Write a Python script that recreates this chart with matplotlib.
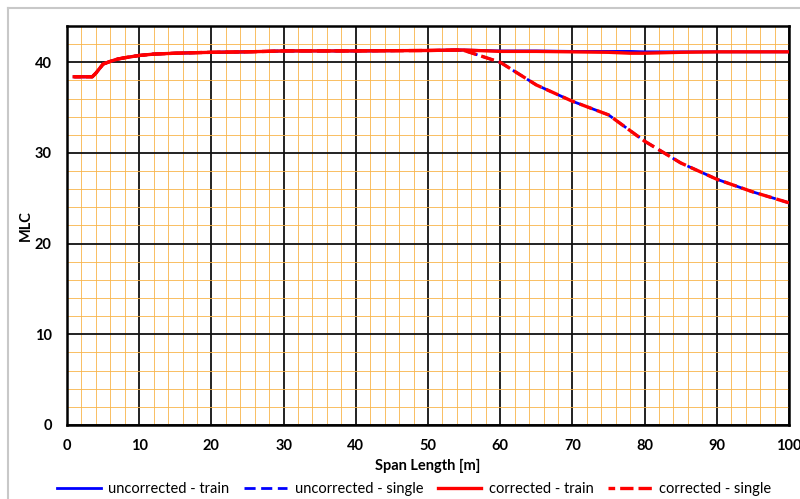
import matplotlib
matplotlib.use("Agg")
import matplotlib.pyplot as plt
from matplotlib.lines import Line2D

plt.rcParams['font.family'] = ['Lato', 'DejaVu Sans']

# Data
span_train = [1, 2, 3, 3.5, 4, 4.6, 5, 6, 7, 8, 10, 12, 15, 20, 25, 30, 40, 50, 54, 55, 60, 65, 70, 75, 78, 80, 85, 90, 95, 100]
uncorr_train = [38.4, 38.4, 38.4, 38.4, 38.8, 39.4, 39.8, 40.1, 40.35, 40.5, 40.75, 40.9, 41.0, 41.1, 41.15, 41.25, 41.25, 41.3, 41.35, 41.35, 41.25, 41.25, 41.2, 41.2, 41.2, 41.15, 41.15, 41.15, 41.15, 41.15]
corr_train = [38.4, 38.4, 38.4, 38.4, 38.8, 39.4, 39.8, 40.1, 40.35, 40.5, 40.75, 40.9, 41.0, 41.1, 41.15, 41.25, 41.25, 41.3, 41.35, 41.35, 41.2, 41.2, 41.15, 41.1, 41.0, 41.0, 41.1, 41.15, 41.15, 41.15]

span_single = [1, 2, 3, 3.5, 4, 4.6, 5, 6, 7, 8, 10, 12, 15, 20, 25, 30, 40, 50, 54, 55, 60, 65, 70, 75, 80, 85, 90, 95, 100]
uncorr_single = [38.4, 38.4, 38.4, 38.4, 38.8, 39.4, 39.8, 40.1, 40.35, 40.5, 40.75, 40.9, 41.0, 41.1, 41.15, 41.25, 41.25, 41.3, 41.35, 41.3, 40.0, 37.5, 35.7, 34.2, 31.3, 28.9, 27.1, 25.7, 24.5]
corr_single = [38.4, 38.4, 38.4, 38.4, 38.8, 39.4, 39.8, 40.1, 40.35, 40.5, 40.75, 40.9, 41.0, 41.1, 41.15, 41.25, 41.25, 41.3, 41.35, 41.3, 40.0, 37.5, 35.7, 34.2, 31.3, 28.9, 27.1, 25.7, 24.5]

x_ticks = [0, 10, 20, 30, 40, 50, 60, 70, 80, 90, 100]
y_ticks = [0, 10, 20, 30, 40]

fig = plt.figure(figsize=(8, 4.99), dpi=100)
ax = fig.add_axes([67/800, 74/499, 722/800, 399/499])

# figure frame lines
fig.add_artist(Line2D([8/800, 1], [1 - 8/499, 1 - 8/499], transform=fig.transFigure, color='#c8c8c8', lw=1.5))
fig.add_artist(Line2D([8/800, 8/800], [0, 1 - 8/499], transform=fig.transFigure, color='#c8c8c8', lw=1.5))

ax.set_xlim(0, 100)
ax.set_ylim(0, 44)
ax.set_xticks(x_ticks)
ax.set_yticks(y_ticks)
ax.set_xticks(range(0, 101, 2), minor=True)
ax.set_yticks(range(0, 45, 2), minor=True)
ax.grid(which='minor', color='#f9b449', lw=0.6, zorder=0)
ax.grid(which='major', color='#111111', lw=1.3, zorder=1)
ax.set_axisbelow(True)
ax.tick_params(which='both', length=0)
ax.tick_params(axis='x', labelsize=10.5, pad=10)
ax.tick_params(axis='y', labelsize=10.5, pad=11)
for lab in ax.get_xticklabels() + ax.get_yticklabels():
    lab.set_fontweight('bold')
for s in ax.spines.values():
    s.set_linewidth(1.8)
    s.set_color('black')

ax.plot(span_train, uncorr_train, color='blue', lw=2.0, label='uncorrected - train', zorder=3)
ax.plot(span_single, uncorr_single, color='blue', lw=2.0, ls=(0, (4, 2)), label='uncorrected - single', zorder=3)
ax.plot(span_train, corr_train, color='red', lw=2.4, label='corrected - train', zorder=4)
ax.plot(span_single, corr_single, color='red', lw=2.4, ls=(2, (4, 1.5)), label='corrected - single', zorder=4)

ax.set_xlabel('Span Length [m]', fontsize=10.5, fontweight='bold', labelpad=4)
ax.set_ylabel('MLC', fontsize=10.5, fontweight='bold', labelpad=1)

leg = fig.legend(loc='center', bbox_to_anchor=(414/800, 10/499), ncol=4, frameon=False,
                 fontsize=10.5, handlelength=3.0, columnspacing=1.0, handletextpad=0.5)

fig.savefig('out.png', dpi=100)
